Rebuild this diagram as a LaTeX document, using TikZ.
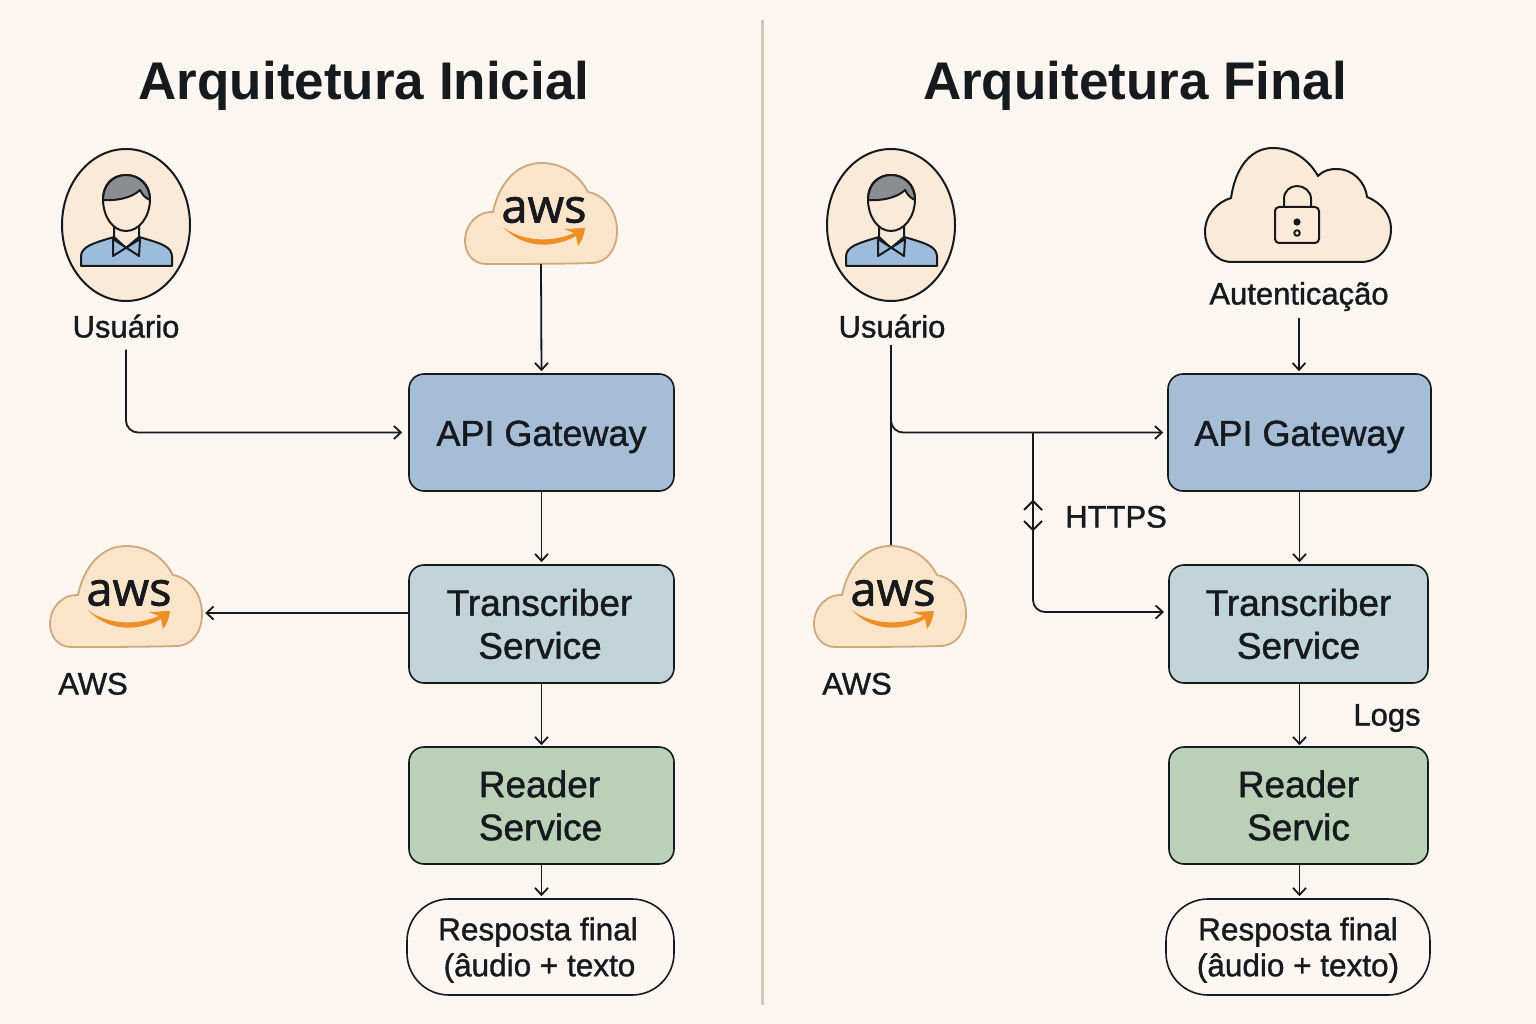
\documentclass[tikz,border=0pt]{standalone}
\usepackage{fontspec}
\setmainfont{Liberation Sans}[RawFeature={embolden=1.2}]
\newfontfamily\titlefont{Liberation Sans Bold}
\newfontfamily\awsfont{Open Sans}[RawFeature={embolden=1.5}]
\usetikzlibrary{arrows.meta,calc}
\definecolor{paper}{HTML}{FCF6F0}
\definecolor{ink}{HTML}{16191D}
\definecolor{divider}{HTML}{CFC8B2}
\definecolor{apiblue}{HTML}{A6BDD6}
\definecolor{transblue}{HTML}{C0D4D9}
\definecolor{readgreen}{HTML}{B9D1B6}
\definecolor{peach}{HTML}{FBEAD8}
\definecolor{awsfill}{HTML}{FAE4CA}
\definecolor{awsline}{HTML}{CFA97C}
\definecolor{smile}{HTML}{EE8F25}
\definecolor{shirt}{HTML}{9DBCDC}
\definecolor{hair}{HTML}{8B8D90}
\tikzset{
  x=1pt,y=-1pt,
  conn/.style={draw=ink,line width=1.8pt,-{Straight Barb[length=7pt,width=13pt,line width=1.8pt]},rounded corners=12pt},
  plainconn/.style={draw=ink,line width=1.8pt,rounded corners=12pt},
  svc/.style={draw=ink,line width=1.6pt,rounded corners=15pt,inner sep=0pt,align=center,text=ink,font=\fontsize{37}{43}\selectfont},
  endbox/.style={draw=ink,line width=1.6pt,rounded corners=42pt,fill=paper,inner sep=0pt,align=center,text=ink,font=\fontsize{31.5}{36}\selectfont},
  lab/.style={inner sep=0pt,text=ink,text height=21pt,text depth=0pt,font=\fontsize{31}{34}\selectfont},
  title/.style={inner sep=0pt,text=ink,font=\fontsize{53}{60}\selectfont\titlefont},
  anchorbox/.style={inner sep=0pt,minimum width=#1},
}
\newcommand{\personicon}[2]{%
  \begin{scope}[shift={(#1,#2)},line width=2pt,draw=ink,line join=round]
    \draw[fill=peach] (0,0) ellipse [x radius=64,y radius=76];
    \draw[fill=shirt] (-45,41) -- (-45,31) .. controls (-44,22) and (-36,19) .. (-12,12) -- (13,12) .. controls (38,19) and (45,22) .. (46,31) -- (46,41) -- cycle;
    \draw[fill=peach] (-12,0) -- (-12,12) -- (0,23) -- (13,12) -- (13,0) -- cycle;
    \draw[fill=shirt] (-13,14) -- (13,31) -- (14,14) -- (-13,31) -- cycle;
    \draw[fill=peach] (0,-50) .. controls (-14,-50) and (-23,-40) .. (-23,-26) .. controls (-23,-8) and (-13,6) .. (0,6) .. controls (13,6) and (24,-8) .. (24,-26) .. controls (24,-40) and (14,-50) .. (0,-50) -- cycle;
    \draw[fill=hair] (-23,-25) .. controls (-23,-40) and (-13,-50) .. (0,-50) .. controls (13,-50) and (24,-40) .. (24,-25) .. controls (19,-27) and (16,-31) .. (14,-35) .. controls (6,-27) and (-10,-24) .. (-23,-25) -- cycle;
  \end{scope}}
\newcommand{\awscloud}[2]{%
  \begin{scope}[shift={(#1,#2)}]
    \draw[fill=awsfill,draw=awsline,line width=1.8pt]
      (-55,51) .. controls (-68,51) and (-76,40) .. (-76,28)
      .. controls (-76,10) and (-62,-2) .. (-48,-1)
      .. controls (-42,-30) and (-24,-50) .. (0,-50)
      .. controls (22,-50) and (38,-38) .. (47,-21)
      .. controls (63,-18) and (76,-3) .. (76,18)
      .. controls (76,36) and (66,50) .. (50,50)
      .. controls (20,51) and (-25,51) .. (-55,51) -- cycle;
    \node[inner sep=0pt,text=ink,font=\fontsize{47}{50}\selectfont\awsfont] at (3,-3) {aws};
    \fill[smile] (-38,14) .. controls (-22,27) and (8,31) .. (33,20) -- (23,16) .. controls (31,16) and (38,15) .. (44,15) .. controls (43,22) and (41,28) .. (37,33) -- (35,23) .. controls (10,37) and (-20,34) .. (-38,14) -- cycle;
  \end{scope}}
\newcommand{\lockcloud}[2]{%
  \begin{scope}[shift={(#1,#2)},line width=2pt,draw=ink,line join=round]
    \draw[fill=peach]
      (-65,57) .. controls (-82,57) and (-92,42) .. (-92,27)
      .. controls (-92,10) and (-80,-3) .. (-66,-7)
      .. controls (-62,-35) and (-48,-57) .. (-24,-57)
      .. controls (-4,-57) and (12,-45) .. (21,-29)
      .. controls (27,-35) and (33,-36) .. (40,-36)
      .. controls (55,-36) and (68,-24) .. (70,-8)
      .. controls (85,-2) and (94,10) .. (94,24)
      .. controls (94,42) and (82,57) .. (64,57) -- cycle;
    \draw (-13,2) -- (-13,-6) .. controls (-13,-14) and (-7,-19) .. (0,-19) .. controls (7,-19) and (14,-14) .. (14,-6) -- (14,2);
    \draw[rounded corners=4pt] (-22,2) rectangle (22,38);
    \fill[ink] (0,17) circle [radius=3.6];
    \draw (0,28) circle [radius=2.8];
  \end{scope}}
\begin{document}
\begin{tikzpicture}
\useasboundingbox (0,0) rectangle (1536,1024);
\fill[paper] (0,0) rectangle (1536,1024);
\draw[divider,line width=3pt] (762,20) -- (762,1005);

\node[title] (titleA) at (364,86) {Arquitetura Inicial};
\node[title] (titleB) at (1135,86) {Arquitetura Final};

% ---------- left
\personicon{126}{225}
\node[lab] (userA) at (126,327) {Usuário};
\awscloud{541}{213}
\node[anchorbox=152pt,minimum height=102pt] (awsA) at (541,213) {};
\awscloud{126}{596}
\node[anchorbox=152pt,minimum height=102pt] (awsB) at (126,596) {};
\node[lab] (awsLabA) at (93,684) {AWS};

\node[svc,fill=apiblue,minimum width=265pt,minimum height=117pt] (apiA) at (541.5,432.5) {\fontsize{36}{43}\selectfont\rule{0pt}{34pt}API Gateway};
\node[svc,fill=transblue,minimum width=265pt,minimum height=118pt] (transA) at (541.5,624) {\hspace*{-4pt}Transcriber\\\hspace*{-3pt}Service};
\node[svc,fill=readgreen,minimum width=265pt,minimum height=117pt] (readA) at (541.5,805.5) {\hspace*{-4pt}Reader\\\hspace*{-2pt}Service};
\node[endbox,minimum width=267pt,minimum height=96pt] (respA) at (540.5,947) {\rule{0pt}{29pt}\hspace*{-5pt}Resposta final\\\hspace*{-2pt}(âudio + texto};

\coordinate (kneeA) at (userA.south |- apiA.west);
\coordinate (transTapA) at (409,613);
\draw[conn,shorten <=12pt,shorten >=6pt] (userA.south) -- (kneeA) -- (apiA.west);
\draw[conn,shorten >=2pt] (awsA.south) -- (apiA.north);
\draw[conn,shorten >=2pt] (apiA.south) -- (transA.north);
\draw[conn,shorten >=3pt] (transTapA) -- (transTapA -| awsB.east);
\draw[conn,shorten >=1pt] (transA.south) -- (readA.north);
\draw[conn,shorten >=2pt] (readA.south) -- (respA.north -| readA.south);

% ---------- right
\personicon{891}{225}
\node[lab] (userB) at (892,327) {Usuário};
\lockcloud{1297}{205}
\node[anchorbox=185pt,minimum height=114pt] (authCloud) at (1297,205) {};
\node[lab] (authLab) at (1299,294) {Autenticação};
\awscloud{890}{596}
\node[anchorbox=152pt,minimum height=102pt] (awsC) at (890,596) {};
\node[lab] (awsLabB) at (857,684) {AWS};

\node[svc,fill=apiblue,minimum width=263pt,minimum height=117pt] (apiB) at (1299.5,432.5) {\fontsize{36}{43}\selectfont\rule{0pt}{34pt}API Gateway};
\node[svc,fill=transblue,minimum width=259pt,minimum height=118pt] (transB) at (1298.5,624) {Transcriber\\Service};
\node[svc,fill=readgreen,minimum width=259pt,minimum height=117pt] (readB) at (1298.5,805.5) {Reader\\Servic};
\node[endbox,minimum width=264pt,minimum height=96pt] (respB) at (1298,947) {\rule{0pt}{29pt}Resposta final\\(âudio + texto)};
\node[lab] (logs) at (1387,715) {Logs};
\node[lab] (https) at (1116,517) {HTTPS};

\coordinate (trunkB) at (891,345);
\coordinate (forkB) at (891,421);
\coordinate (kneeB) at (forkB |- apiB.west);
\coordinate (branchB) at (1033,432.5);
\coordinate (kneeC) at (1033,612);
\coordinate (transTapB) at (1169,612);
\coordinate (chevUp) at (1033,501);
\coordinate (chevDown) at (1033,530);
\coordinate (axisB) at (1299.5,0);
\draw[plainconn] (trunkB) -- (trunkB |- awsC.north);
\draw[conn,shorten >=4pt] (forkB) -- (kneeB) -- (apiB.west);
\draw[conn,shorten >=5pt] (branchB) -- (kneeC) -- (transTapB);
\draw[draw=ink,line width=2pt] ($(chevUp)+(-9,9)$) -- (chevUp) -- ($(chevUp)+(9,9)$);
\draw[draw=ink,line width=2pt] ($(chevDown)+(-9,-9)$) -- (chevDown) -- ($(chevDown)+(9,-9)$);
\draw[conn,shorten <=13pt,shorten >=2pt] (authLab.south) -- (authLab.south |- apiB.north);
\draw[conn,shorten >=2pt] (axisB |- apiB.south) -- (axisB |- transB.north);
\draw[conn,shorten >=1pt] (axisB |- transB.south) -- (axisB |- readB.north);
\draw[conn,shorten >=2pt] (axisB |- readB.south) -- (axisB |- respB.north);
\end{tikzpicture}
\end{document}
